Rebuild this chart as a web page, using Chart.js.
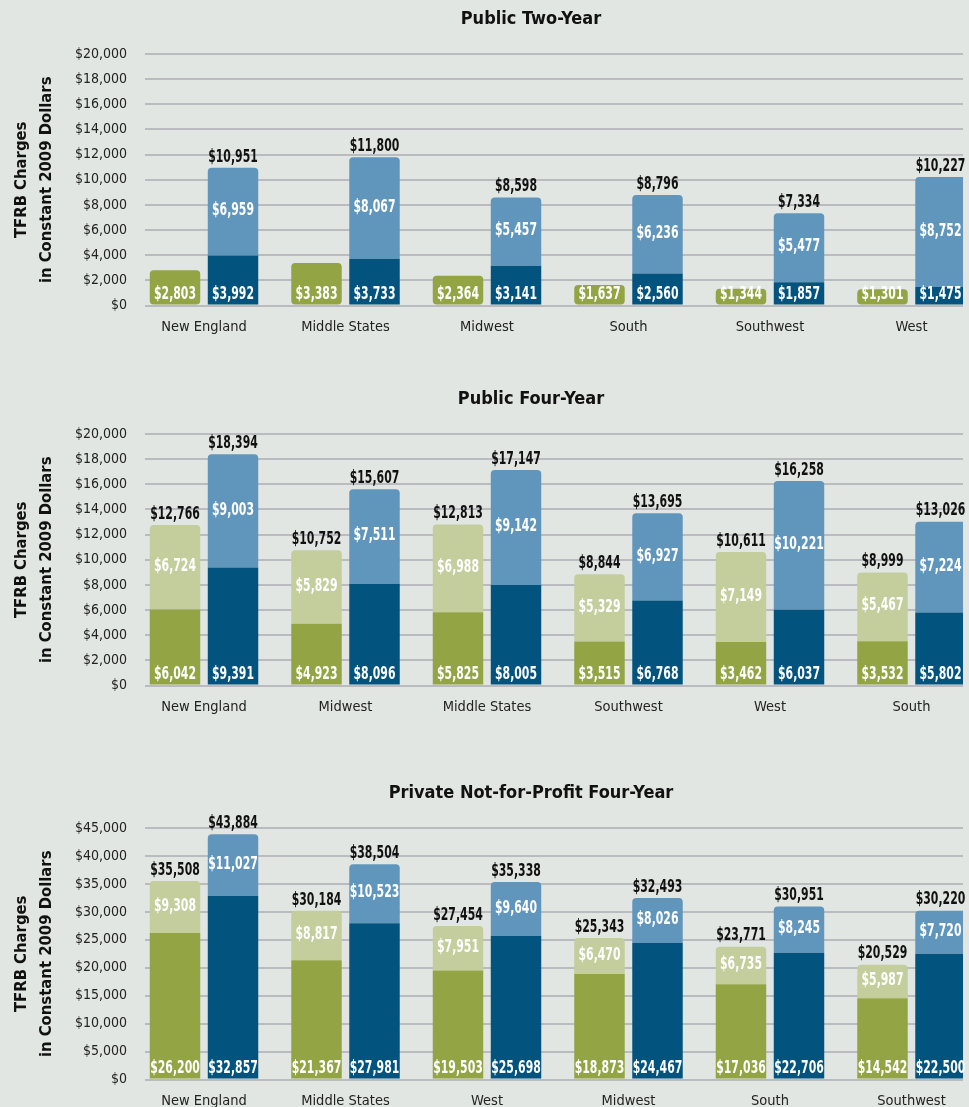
<!DOCTYPE html>
<html>
<head>
<meta charset="utf-8">
<title>TFRB Charges by Region</title>
<script src="https://cdn.jsdelivr.net/npm/chart.js@4.4.1/dist/chart.umd.min.js"></script>
<style>
  html, body { margin: 0; padding: 0; background: #e1e6e3; overflow: hidden; width: 969px; height: 1107px; }
  .panel { position: absolute; left: 0; width: 969px; height: 380px; }
  .panel h2 {
    position: absolute; top: 8px; left: 0; width: 1062px; margin: 0;
    text-align: center; color: #111;
    font: bold 18px/20px 'DejaVu Sans Condensed', 'Liberation Sans', sans-serif;
  }
  canvas { position: absolute; left: 0; top: 0; }
</style>
</head>
<body>
<div class="panel" style="top:0px"><canvas id="twoYear" width="969" height="380"></canvas><h2>Public Two-Year</h2></div>
<div class="panel" style="top:380px"><canvas id="fourYear" width="969" height="380"></canvas><h2>Public Four-Year</h2></div>
<div class="panel" style="top:774px"><canvas id="privateFour" width="969" height="380"></canvas><h2>Private Not-for-Profit Four-Year</h2></div>
<script>
// Public Two-Year (earlier year has a single segment)
const twoYearRegions = ['New England', 'Middle States', 'Midwest', 'South', 'Southwest', 'West'];
const twoYearEarlier = [2803, 3383, 2364, 1637, 1344, 1301];
const twoYearLaterBase = [3992, 3733, 3141, 2560, 1857, 1475];
const twoYearLaterTop = [6959, 8067, 5457, 6236, 5477, 8752];
const twoYearMax = 20000, twoYearStep = 2000;

// Public Four-Year
const fourYearRegions = ['New England', 'Midwest', 'Middle States', 'Southwest', 'West', 'South'];
const fourYearEarlierBase = [6042, 4923, 5825, 3515, 3462, 3532];
const fourYearEarlierTop = [6724, 5829, 6988, 5329, 7149, 5467];
const fourYearLaterBase = [9391, 8096, 8005, 6768, 6037, 5802];
const fourYearLaterTop = [9003, 7511, 9142, 6927, 10221, 7224];
const fourYearMax = 20000, fourYearStep = 2000;

// Private Not-for-Profit Four-Year
const privateRegions = ['New England', 'Middle States', 'West', 'Midwest', 'South', 'Southwest'];
const privateEarlierBase = [26200, 21367, 19503, 18873, 17036, 14542];
const privateEarlierTop = [9308, 8817, 7951, 6470, 6735, 5987];
const privateLaterBase = [32857, 27981, 25698, 24467, 22706, 22500];
const privateLaterTop = [11027, 10523, 9640, 8026, 8245, 7720];
const privateMax = 45000, privateStep = 5000;

const COLORS = {
  greenDark: '#93a444',
  greenLight: '#c4cd9c',
  blueDark: '#02537e',
  blueLight: '#6196bc',
  grid: '#b9bbbf'
};

const FONT = "'DejaVu Sans Condensed', 'Liberation Sans', sans-serif";
const measure = document.createElement('canvas').getContext('2d');

// font size that gives a sample string the wanted width
function fitSize(text, width, weight) {
  measure.font = `${weight} 100px ${FONT}`;
  return Math.round(200 * width / measure.measureText(text).width) / 2;
}
const SIZE = {
  tick: fitSize('$20,000', 52, 'normal'),
  category: fitSize('New England', 86, 'normal'),
  axisTitle: fitSize('in Constant 2009 Dollars', 207, 'bold'),
  value: 18
};

// bar labels are squeezed sideways so they keep a condensed look
measure.font = `bold ${SIZE.value}px ${FONT}`;
const SQUEEZE = Math.min(1, 42 / measure.measureText('$2,803').width);

const money = v => '$' + Number(v).toLocaleString('en-US');
const points = arr => arr.map((v, i) => ({ x: i, y: v }));
const sums = (a, b) => a.map((v, i) => v + b[i]);

function squeezedText(ctx, text, x, y) {
  ctx.save();
  ctx.translate(x, y);
  ctx.scale(SQUEEZE, 1);
  ctx.fillText(text, 0, 0);
  ctx.restore();
}

// white value labels inside segments, black totals above stacks
const barLabels = {
  id: 'barLabels',
  afterDatasetsDraw(chart) {
    const ctx = chart.ctx;
    ctx.save();
    ctx.textAlign = 'center';
    ctx.textBaseline = 'middle';
    ctx.font = `bold ${SIZE.value}px ${FONT}`;
    chart.data.datasets.forEach((ds, i) => {
      const meta = chart.getDatasetMeta(i);
      meta.data.forEach((bar, j) => {
        const y = ds.labelAt === 'bottom' ? bar.base - 10 : (bar.y + bar.base) / 2 - 1;
        ctx.fillStyle = '#fff';
        squeezedText(ctx, money(ds.data[j].y), bar.x, y);
        if (ds.totals) {
          ctx.fillStyle = '#111';
          squeezedText(ctx, money(ds.totals[j]), bar.x, bar.y - 11);
        }
      });
    });
    ctx.restore();
  }
};

function lowerSet(data, color, stack, radius) {
  return {
    data: points(data), backgroundColor: color, stack: stack, labelAt: 'bottom',
    borderRadius: radius || 0, borderSkipped: radius ? false : 'start'
  };
}

function upperSet(data, base, color, stack) {
  return {
    data: points(data), backgroundColor: color, stack: stack, labelAt: 'middle',
    totals: sums(base, data),
    borderRadius: { topLeft: 4, topRight: 4, bottomLeft: 0, bottomRight: 0 }
  };
}

function makeChart(id, regions, datasets, max, step) {
  new Chart(document.getElementById(id), {
    type: 'bar',
    data: { datasets: datasets },
    options: {
      responsive: false,
      animation: false,
      events: [],
      categoryPercentage: 0.82,
      barPercentage: 0.87,
      layout: { padding: { top: 54, right: 6, bottom: 31, left: 0 } },
      plugins: { legend: { display: false }, tooltip: { enabled: false } },
      scales: {
        x: {
          type: 'linear',
          min: -0.417,
          max: 5.364,
          offset: false,
          afterBuildTicks: s => { s.ticks = regions.map((r, i) => ({ value: i })); },
          ticks: {
            autoSkip: false, maxRotation: 0, color: '#222',
            padding: Math.round(22 - SIZE.category * 0.6),
            font: { family: FONT, size: SIZE.category },
            callback: v => regions[v]
          },
          grid: { display: false, drawTicks: false },
          border: { display: false }
        },
        y: {
          stacked: true,
          min: 0,
          max: max,
          afterFit: s => { s.width = 145; },
          ticks: {
            stepSize: step, autoSkip: false, padding: 18, color: '#222',
            font: { family: FONT, size: SIZE.tick },
            callback: v => money(v)
          },
          grid: { color: COLORS.grid, lineWidth: 2, drawTicks: false },
          border: { display: false },
          title: {
            display: true,
            text: ['TFRB Charges', 'in Constant 2009 Dollars'],
            color: '#111',
            font: { family: FONT, size: SIZE.axisTitle, weight: 'bold', lineHeight: '25px' },
            padding: { top: 9.5, bottom: 0 }
          }
        }
      }
    },
    plugins: [barLabels]
  });
}

makeChart('twoYear', twoYearRegions, [
  lowerSet(twoYearEarlier, COLORS.greenDark, 'earlier', 4),
  lowerSet(twoYearLaterBase, COLORS.blueDark, 'later'),
  upperSet(twoYearLaterTop, twoYearLaterBase, COLORS.blueLight, 'later')
], twoYearMax, twoYearStep);

makeChart('fourYear', fourYearRegions, [
  lowerSet(fourYearEarlierBase, COLORS.greenDark, 'earlier'),
  upperSet(fourYearEarlierTop, fourYearEarlierBase, COLORS.greenLight, 'earlier'),
  lowerSet(fourYearLaterBase, COLORS.blueDark, 'later'),
  upperSet(fourYearLaterTop, fourYearLaterBase, COLORS.blueLight, 'later')
], fourYearMax, fourYearStep);

makeChart('privateFour', privateRegions, [
  lowerSet(privateEarlierBase, COLORS.greenDark, 'earlier'),
  upperSet(privateEarlierTop, privateEarlierBase, COLORS.greenLight, 'earlier'),
  lowerSet(privateLaterBase, COLORS.blueDark, 'later'),
  upperSet(privateLaterTop, privateLaterBase, COLORS.blueLight, 'later')
], privateMax, privateStep);
</script>
</body>
</html>
